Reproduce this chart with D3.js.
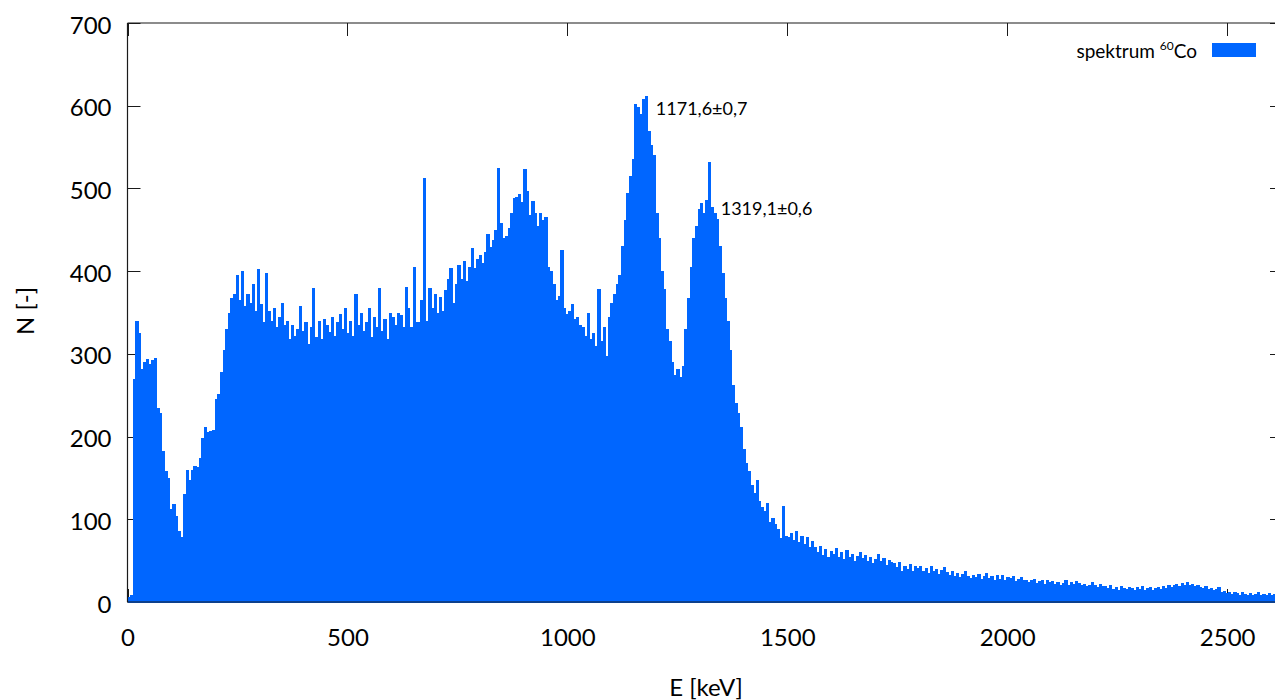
<!DOCTYPE html>
<html>
<head>
<meta charset="utf-8">
<script src="https://cdn.jsdelivr.net/npm/d3@7"></script>
<style>
  html, body { margin: 0; padding: 0; background: #fff; }
  svg { display: block; font-family: Lato, "Open Sans", sans-serif; }
</style>
</head>
<body>
<svg id="chart" width="1275" height="700"></svg>
<script>
// Gamma spectrum of 60Co: counts per 6 keV energy bin
const binWidthKeV = 6;
const counts = [
  6, 8, 270, 340, 325, 282, 290, 294, 288, 292,
  295, 234, 228, 182, 158, 150, 112, 118, 104, 86,
  78, 130, 160, 148, 160, 165, 163, 174, 198, 212,
  205, 207, 208, 245, 252, 278, 305, 330, 350, 368,
  372, 395, 365, 400, 358, 372, 362, 385, 352, 403,
  360, 338, 398, 352, 340, 355, 333, 345, 362, 335,
  340, 318, 335, 322, 330, 358, 328, 338, 312, 332,
  380, 320, 340, 318, 342, 335, 326, 345, 322, 338,
  348, 330, 356, 325, 340, 322, 372, 335, 350, 328,
  338, 355, 320, 345, 332, 380, 328, 342, 318, 350,
  345, 335, 349, 347, 333, 381, 355, 332, 405, 338,
  338, 365, 513, 340, 380, 355, 372, 350, 369, 352,
  377, 390, 404, 362, 385, 408, 390, 412, 388, 405,
  428, 404, 415, 420, 410, 423, 445, 429, 438, 450,
  525, 458, 440, 442, 452, 470, 488, 490, 493, 483,
  524, 497, 468, 485, 470, 455, 470, 462, 465, 405,
  400, 385, 365, 370, 425, 355, 348, 352, 360, 342,
  345, 335, 333, 322, 350, 318, 325, 310, 378, 315,
  332, 298, 345, 362, 372, 385, 395, 430, 462, 495,
  515, 535, 602, 598, 590, 608, 612, 570, 552, 540,
  470, 440, 400, 378, 330, 315, 290, 275, 282, 272,
  285, 330, 368, 405, 440, 455, 475, 482, 470, 486,
  532, 478, 470, 463, 430, 398, 368, 340, 305, 262,
  240, 228, 212, 185, 168, 158, 142, 132, 148, 122,
  115, 110, 120, 97, 102, 94, 88, 77, 116, 80,
  78, 84, 75, 86, 72, 80, 70, 78, 66, 74,
  66, 60, 68, 57, 64, 55, 62, 58, 65, 54,
  60, 52, 63, 55, 58, 50, 56, 61, 53, 57,
  50, 55, 47, 52, 58, 49, 53, 45, 51, 48,
  47, 42, 48, 38, 44, 40, 46, 37, 43, 41,
  44, 38, 41, 35, 43, 37, 40, 34, 39, 42,
  36, 33, 38, 31, 35, 30, 34, 37, 32, 29,
  33, 30, 34, 28, 32, 35, 29, 31, 27, 33,
  28, 33, 26, 30, 29, 31, 25, 28, 30, 27,
  27, 24, 26, 28, 23, 25, 27, 22, 26, 24,
  25, 22, 24, 20, 23, 26, 21, 24, 22, 25,
  23, 20, 22, 19, 21, 24, 20, 18, 22, 19,
  19, 17, 20, 16, 18, 15, 19, 17, 16, 18,
  17, 15, 18, 16, 19, 14, 17, 18, 15, 17,
  18, 16, 19, 17, 20, 18, 21, 22, 19, 23,
  21, 24, 20, 22, 19, 21, 18, 17, 19, 16,
  17, 15, 16, 18, 12, 13, 11, 12, 10, 12,
  11, 9, 12, 10, 8, 11, 9, 10, 12, 9,
  10, 9, 11, 8, 10
];
const binStart = counts.map((_, i) => i * binWidthKeV);

const xTicks = [0, 500, 1000, 1500, 2000, 2500];
const yTicks = [0, 100, 200, 300, 400, 500, 600, 700];

// fitted photopeaks and where their labels sit
const peakEnergy = [1171.6, 1319.1];
const peakLabels = ["1171,6±0,7", "1319,1±0,6"];
const peakLabelN = [596, 476];

const xDomain = [0, 2627];
const yDomain = [0, 700];

const plot = { left: 127.5, right: 1283, top: 23, bottom: 602 };
const barColor = "#0066ff";
const axisColor = "#1a1a1a";

const svg = d3.select("#chart");
const x = d3.scaleLinear().domain(xDomain).range([plot.left, plot.right]);
const y = d3.scaleLinear().domain(yDomain).range([plot.bottom, plot.top]);

// tick marks sit behind the histogram
const tickLen = 13;
const ticks = svg.append("g").attr("stroke", axisColor).attr("stroke-width", 1);
yTicks.forEach(v => {
  ticks.append("line").attr("x1", plot.left).attr("x2", plot.left + tickLen)
    .attr("y1", Math.round(y(v)) + 0.5).attr("y2", Math.round(y(v)) + 0.5);
  ticks.append("line").attr("x1", plot.right - tickLen).attr("x2", plot.right)
    .attr("y1", Math.round(y(v)) + 0.5).attr("y2", Math.round(y(v)) + 0.5);
});
xTicks.forEach(v => {
  ticks.append("line").attr("x1", Math.round(x(v)) + 0.5).attr("x2", Math.round(x(v)) + 0.5)
    .attr("y1", plot.bottom).attr("y2", plot.bottom - tickLen);
  ticks.append("line").attr("x1", Math.round(x(v)) + 0.5).attr("x2", Math.round(x(v)) + 0.5)
    .attr("y1", plot.top).attr("y2", plot.top + tickLen);
});

// histogram boxes
svg.append("g")
  .attr("fill", barColor)
  .attr("shape-rendering", "crispEdges")
  .selectAll("rect")
  .data(counts)
  .join("rect")
  .attr("x", (d, i) => x(binStart[i]))
  .attr("width", (d, i) => x(binStart[i] + binWidthKeV) - x(binStart[i]) + 0.6)
  .attr("y", d => y(d))
  .attr("height", d => y(0) - y(d) + 1);

// border: left, top and bottom edges
const border = svg.append("g").attr("stroke", axisColor).attr("stroke-width", 1.2).attr("fill", "none");
border.append("line").attr("x1", plot.left).attr("x2", plot.left).attr("y1", plot.top).attr("y2", plot.bottom);
border.append("line").attr("x1", plot.left).attr("x2", plot.right).attr("y1", plot.top).attr("y2", plot.top);
border.append("line").attr("x1", plot.left).attr("x2", plot.right).attr("y1", plot.bottom).attr("y2", plot.bottom);

// tick labels through d3 axes (lines hidden, drawn above)
const yAxis = svg.append("g")
  .attr("transform", `translate(${plot.left},0)`)
  .call(d3.axisLeft(y).tickValues(yTicks).tickSize(0).tickPadding(16).tickFormat(d3.format("d")));
yAxis.select(".domain").remove();
yAxis.selectAll("text").attr("font-size", 24).attr("font-family", "Lato").attr("fill", "#000").attr("dy", "0.42em");

const xAxis = svg.append("g")
  .attr("transform", `translate(0,${plot.bottom})`)
  .call(d3.axisBottom(x).tickValues(xTicks).tickSize(0).tickPadding(27).tickFormat(d3.format("d")));
xAxis.select(".domain").remove();
xAxis.selectAll("text").attr("font-size", 24).attr("font-family", "Lato").attr("fill", "#000");

// axis titles
svg.append("text")
  .attr("x", 706).attr("y", 696)
  .attr("text-anchor", "middle").attr("font-size", 24).attr("fill", "#000")
  .text("E [keV]");
svg.append("text")
  .attr("transform", "translate(34,311) rotate(-90)")
  .attr("text-anchor", "middle").attr("font-size", 24).attr("fill", "#000")
  .text("N [-]");

// peak annotations
svg.append("g").selectAll("text")
  .data(peakLabels)
  .join("text")
  .attr("x", (d, i) => x(peakEnergy[i]) + 13)
  .attr("y", (d, i) => y(peakLabelN[i]))
  .attr("dy", "0.35em")
  .attr("font-size", 18).attr("fill", "#000")
  .text(d => d);

// legend
const legend = svg.append("g");
const legendText = legend.append("text")
  .attr("x", 1197).attr("y", 58)
  .attr("text-anchor", "end").attr("font-size", 19).attr("fill", "#000");
legendText.append("tspan").text("spektrum ");
legendText.append("tspan").attr("font-size", 12).attr("dy", -8).text("60");
legendText.append("tspan").attr("dy", 8).text("Co");
legend.append("rect")
  .attr("x", 1212).attr("y", 43).attr("width", 44).attr("height", 14)
  .attr("fill", barColor);
</script>
</body>
</html>
